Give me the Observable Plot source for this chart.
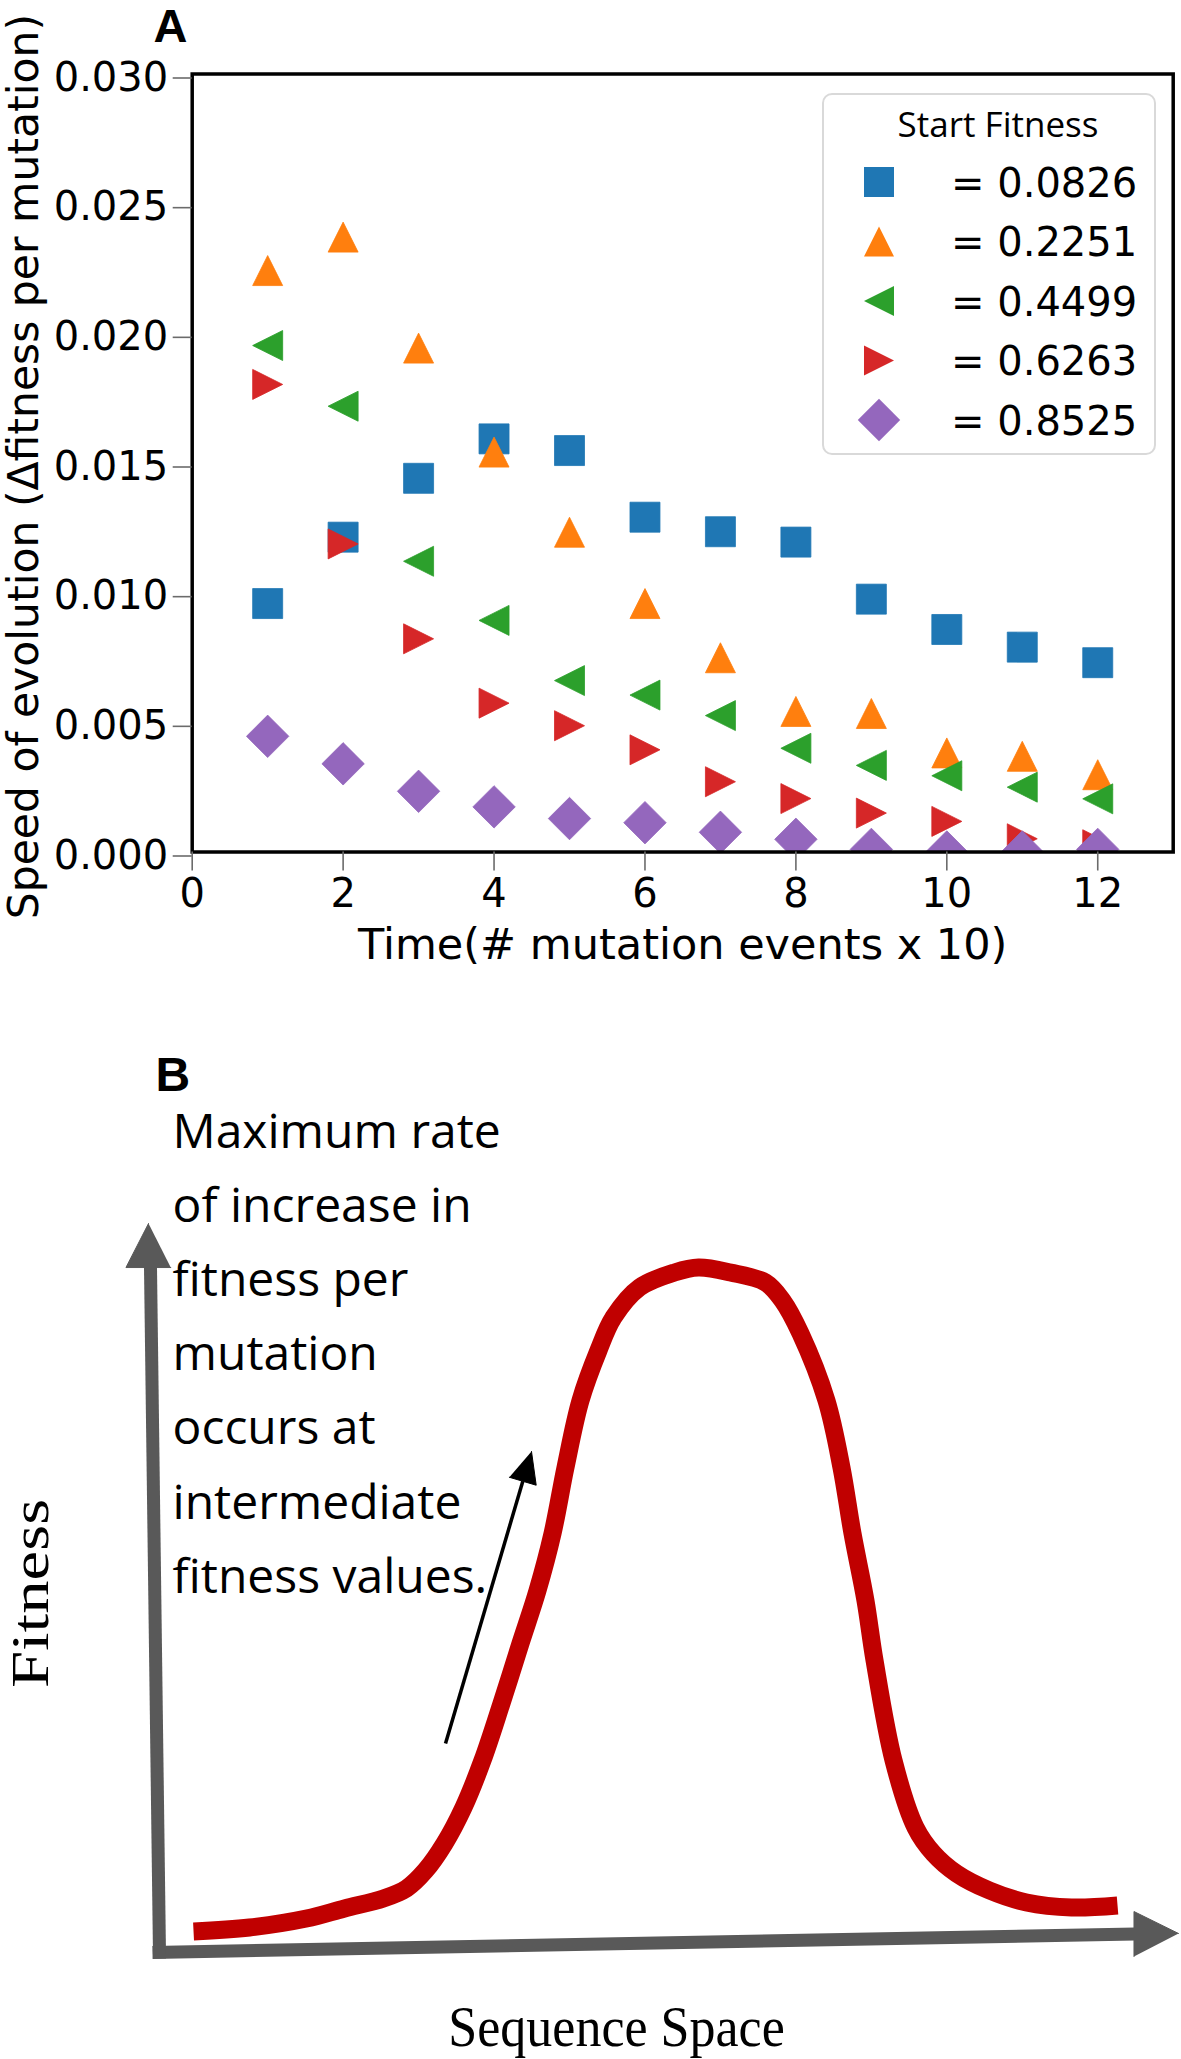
<!DOCTYPE html>
<html><head><meta charset="utf-8">
<script src="https://cdn.jsdelivr.net/npm/d3@7"></script>
<script src="https://cdn.jsdelivr.net/npm/@observablehq/plot@0.6"></script>
<style>
html,body{margin:0;padding:0;background:#fff;}
#wrap{position:relative;width:1181px;height:2059px;overflow:hidden;background:#fff;}
#wrap svg{display:block;}
</style></head><body><div id="wrap"></div>
<script>
// ---------- Panel A data ----------
const times = [1, 2, 3, 4, 5, 6, 7, 8, 9, 10, 11, 12];
const startFitness = ["0.0826", "0.2251", "0.4499", "0.6263", "0.8525"];
const speedF0826 = [0.00958, 0.01214, 0.01441, 0.01593, 0.01548, 0.01291, 0.01235, 0.01195, 0.00975, 0.00858, 0.00790, 0.00730];
const speedF2251 = [0.02242, 0.02371, 0.01943, 0.01542, 0.01233, 0.00958, 0.00749, 0.00542, 0.00534, 0.00382, 0.00369, 0.00298];
const speedF4499 = [0.01953, 0.01719, 0.01121, 0.00893, 0.00661, 0.00605, 0.00526, 0.00400, 0.00334, 0.00294, 0.00250, 0.00205];
const speedF6263 = [0.01803, 0.01188, 0.00822, 0.00574, 0.00487, 0.00394, 0.00271, 0.00206, 0.00150, 0.00118, 0.00051, 0.00028];
const speedF8525 = [0.00446, 0.00340, 0.00234, 0.00174, 0.00129, 0.00113, 0.00076, 0.00049, 0.00010, 0.00000, 0.00000, 0.00010];
const seriesColors = ["#1f77b4", "#ff7f0e", "#2ca02c", "#d62728", "#9467bd"];
const xTicks = [0, 2, 4, 6, 8, 10, 12];
const yTicks = [0, 0.005, 0.010, 0.015, 0.020, 0.025, 0.030];
const xLabel = "Time(# mutation events x 10)";
const yLabel = "Speed of evolution (\u0394fitness per mutation)";
const legendTitle = "Start Fitness";

// ---------- Panel B data (schematic, 0–100 units) ----------
const ridgeX = [3.53, 9.01, 14.59, 18.32, 22.13, 24.39, 26.25, 28.11, 29.97, 31.83, 33.69, 35.55, 37.22, 38.69, 39.96, 41.43, 43.19, 44.66, 47.21, 50.64, 52.99, 56.12, 59.55, 61.21, 62.98, 65.52, 66.99, 68.07, 69.34, 70.23, 72.09, 74.24, 76.00, 78.26, 81.49, 85.11, 89.52, 94.03];
const ridgeY = [2.88, 3.43, 4.66, 6.04, 7.41, 8.78, 11.25, 14.95, 19.89, 26.34, 34.16, 42.39, 49.66, 57.48, 66.53, 75.72, 82.58, 87.11, 91.22, 93.28, 93.96, 93.28, 91.91, 89.44, 84.91, 75.72, 66.53, 57.48, 48.29, 40.05, 26.34, 17.15, 13.58, 10.84, 8.50, 6.86, 6.17, 6.45];
const fitnessAxisX = [0.20, -0.69];
const fitnessAxisY = [-0.82, 94.4];
const fitnessHeadX = [-0.88, -3.09, 1.30];
const fitnessHeadY = [100, 93.96, 93.96];
const seqAxisX = [-0.49, 95.74];
const seqAxisY = [0, 2.54];
const seqHeadX = [100, 95.64, 95.64];
const seqHeadY = [2.61, 5.62, -0.55];
const rateArrowX = [28.21, 35.78];
const rateArrowY = [28.67, 64.64];
const rateHeadX = [36.63, 37.09, 34.46];
const rateHeadY = [68.72, 64.10, 65.19];
const noteLines = ["Maximum rate", "of increase in", "fitness per", "mutation", "occurs at", "intermediate", "fitness values."];

// ---------- helpers ----------
const pts = (xs, ys) => xs.map((x, i) => ({x, y: ys[i]}));
const mk = (fn) => ({draw(c, size) { const h = Math.sqrt(size) / 2; fn(c, h); }});
const symSquare = mk((c, h) => { c.moveTo(-h, -h); c.lineTo(h, -h); c.lineTo(h, h); c.lineTo(-h, h); c.closePath(); });
const symTriUp = mk((c, h) => { c.moveTo(0, -h); c.lineTo(h, h); c.lineTo(-h, h); c.closePath(); });
const symTriLeft = mk((c, h) => { c.moveTo(-h, 0); c.lineTo(h, -h); c.lineTo(h, h); c.closePath(); });
const symTriRight = mk((c, h) => { c.moveTo(h, 0); c.lineTo(-h, h); c.lineTo(-h, -h); c.closePath(); });
const symDiamond = mk((c, h) => { const d = h * Math.SQRT2; c.moveTo(0, -d); c.lineTo(d, 0); c.lineTo(0, d); c.lineTo(-d, 0); c.closePath(); });
const seriesSymbols = [symSquare, symTriUp, symTriLeft, symTriRight, symDiamond];
const seriesValues = [speedF0826, speedF2251, speedF4499, speedF6263, speedF8525];
const markerR = 30 / Math.sqrt(Math.PI);

// stretch a text node (the serif labels of panel B are drawn stretched along the page's vertical)
function stretchText(svg, label, sx, sy) {
  d3.select(svg).selectAll("text").filter(function () { return this.textContent === label; }).each(function () {
    const tr = this.getAttribute("transform") || "";
    const x = this.getAttribute("x"), y = this.getAttribute("y");
    let pre = "";
    if (x != null || y != null) {
      pre = ` translate(${parseFloat(x) || 0},${parseFloat(y) || 0})`;
      this.removeAttribute("x"); this.removeAttribute("y");
    }
    this.setAttribute("transform", `${tr}${pre} scale(${sx},${sy})`);
  });
}

const wrap = document.getElementById("wrap");

// ---------- Panel A ----------
const dotMarks = seriesValues.map((vals, k) =>
  Plot.dot(times.map((t, i) => ({time: t, speed: vals[i], start: startFitness[k]})), {
    x: "time", y: "speed", symbol: seriesSymbols[k], fill: seriesColors[k],
    stroke: seriesColors[k], strokeWidth: 0.8, r: markerR, clip: true
  })
);

const plotA = Plot.plot({
  width: 1181, height: 1000,
  marginLeft: 191.7, marginRight: 8.3, marginTop: 73.5, marginBottom: 148.5,
  x: {domain: [0, 13]},
  y: {domain: [0, 0.03]},
  style: {fontFamily: "DejaVu Sans", background: "white", color: "black"},
  marks: [
    ...dotMarks,
    Plot.frame({stroke: "black", strokeWidth: 3.5}),
    Plot.axisX({ticks: xTicks, tickSize: 19, tickPadding: 8, fontSize: 40, stroke: "#6b6b6b", strokeWidth: 1.6, fill: "black", label: null}),
    Plot.axisY({ticks: yTicks, tickSize: 19, tickPadding: 5, dy: 4, fontSize: 40, stroke: "#6b6b6b", strokeWidth: 1.6, fill: "black", tickFormat: d3.format(".3f"), label: null}),
    Plot.text([{t: xLabel, x: 6.50, y: -0.00411}], {x: "x", y: "y", text: "t", fontSize: 43, lineAnchor: "bottom", textAnchor: "middle", fill: "black"}),
    Plot.text([{t: yLabel, x: -2.037, y: 0.01486}], {x: "x", y: "y", text: "t", fontSize: 42.5, rotate: -90, lineAnchor: "bottom", textAnchor: "middle", fill: "black"}),
    Plot.text([{t: "A", x: -0.513, y: 0.031215}], {x: "x", y: "y", text: "t", fontSize: 47, fontWeight: "bold", fontFamily: "Liberation Sans", lineAnchor: "bottom", textAnchor: "start", fill: "black"})
  ]
});
wrap.appendChild(plotA);

// Legend (overlay inside panel A)
const leg = d3.create("svg").attr("width", 336).attr("height", 364)
  .style("position", "absolute").style("left", "821px").style("top", "92px");
leg.append("rect").attr("x", 2).attr("y", 2).attr("width", 332).attr("height", 360).attr("rx", 9)
  .attr("fill", "white").attr("fill-opacity", 0.85).attr("stroke", "#d9d9d9").attr("stroke-width", 2);
leg.append("text").attr("x", 177).attr("y", 45).attr("text-anchor", "middle")
  .attr("font-family", "Open Sans").attr("font-size", 35).attr("fill", "black").text(legendTitle);
startFitness.forEach((s, k) => {
  const cy = 90 + k * 59.5;
  leg.append("path").attr("transform", `translate(58,${cy})`)
    .attr("d", d3.symbol(seriesSymbols[k], 900)()).attr("fill", seriesColors[k]);
  leg.append("text").attr("x", 130).attr("y", cy + 14.6)
    .attr("font-family", "DejaVu Sans").attr("font-size", 40).attr("fill", "black").text("= " + s);
});
wrap.appendChild(leg.node());

// ---------- Panel B ----------
const gray = "#595959";
const plotB = Plot.plot({
  width: 1181, height: 1059,
  marginLeft: 157, marginRight: 3, marginTop: 223, marginBottom: 107,
  x: {domain: [0, 100], axis: null},
  y: {domain: [0, 100], axis: null},
  style: {fontFamily: "Open Sans", background: "white", color: "black"},
  marks: [
    Plot.line(pts(seqAxisX, seqAxisY), {x: "x", y: "y", stroke: gray, strokeWidth: 13, strokeLinecap: "butt"}),
    Plot.line(pts(fitnessAxisX, fitnessAxisY), {x: "x", y: "y", stroke: gray, strokeWidth: 13, strokeLinecap: "butt"}),
    Plot.line(pts(fitnessHeadX, fitnessHeadY), {x: "x", y: "y", fill: gray, stroke: gray, strokeWidth: 1}),
    Plot.line(pts(seqHeadX, seqHeadY), {x: "x", y: "y", fill: gray, stroke: gray, strokeWidth: 1}),
    Plot.line(pts(ridgeX, ridgeY), {x: "x", y: "y", stroke: "#c00000", strokeWidth: 18, strokeLinecap: "butt", strokeLinejoin: "round", curve: "catmull-rom"}),
    Plot.line(pts(rateArrowX, rateArrowY), {x: "x", y: "y", stroke: "black", strokeWidth: 3.5, strokeLinecap: "butt"}),
    Plot.line(pts(rateHeadX, rateHeadY), {x: "x", y: "y", fill: "black", stroke: "black", strokeWidth: 1}),
    Plot.text([{t: noteLines.join("\n"), x: 1.47, y: 49.38}], {x: "x", y: "y", text: "t", fontSize: 48, lineHeight: 1.542, lineAnchor: "bottom", textAnchor: "start", fill: "black", fontFamily: "Open Sans"}),
    Plot.text([{t: "B", x: -0.2, y: 118.24}], {x: "x", y: "y", text: "t", fontSize: 48, fontWeight: "bold", fontFamily: "Liberation Sans", lineAnchor: "bottom", textAnchor: "start", fill: "black"}),
    Plot.text([{t: "Fitness", x: -10.77, y: 49.25}], {x: "x", y: "y", text: "t", fontSize: 53, fontFamily: "Liberation Serif", rotate: -90, lineAnchor: "bottom", textAnchor: "middle", fill: "black"}),
    Plot.text([{t: "Sequence Space", x: 44.96, y: -12.76}], {x: "x", y: "y", text: "t", fontSize: 52, fontFamily: "Liberation Serif", lineAnchor: "bottom", textAnchor: "middle", fill: "black"})
  ]
});
stretchText(plotB, "Fitness", 1.26, 1);
stretchText(plotB, "Sequence Space", 1, 1.1);
wrap.appendChild(plotB);
</script>
</body></html>
